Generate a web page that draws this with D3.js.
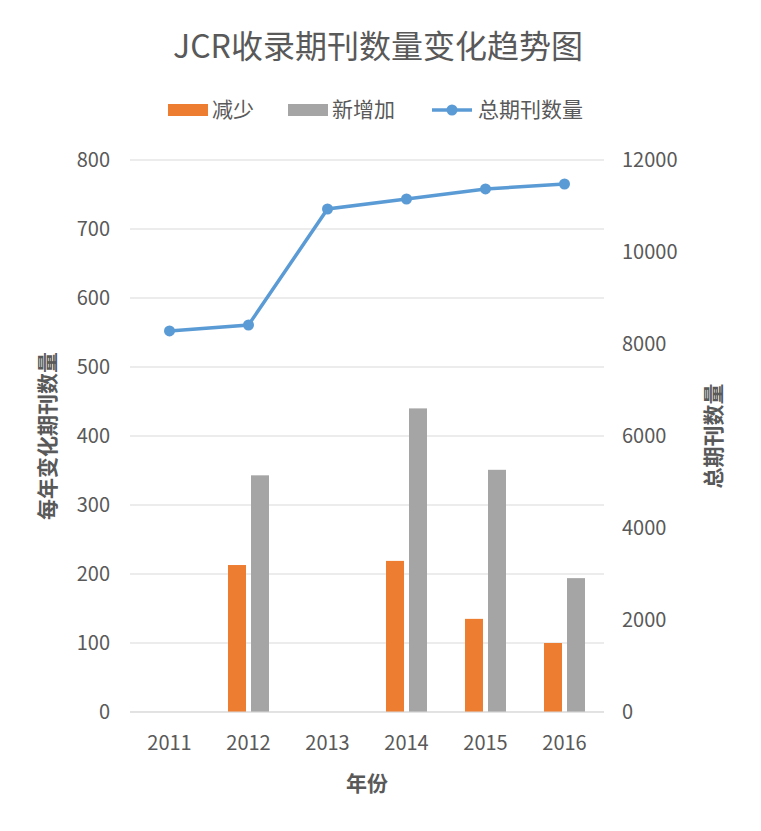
<!DOCTYPE html>
<html lang="zh">
<head>
<meta charset="UTF-8">
<title>JCR收录期刊数量变化趋势图</title>
<style>
  body { margin: 0; background: #fff; }
  text { font-family: "Noto Sans CJK SC", "Noto Sans", sans-serif; }
</style>
</head>
<body>
<svg id="chart" width="761" height="831"></svg>
<script src="https://d3js.org/d3.v7.min.js"></script>
<script>
  const years = ["2011", "2012", "2013", "2014", "2015", "2016"];
  const decreased = [0, 213, 0, 219, 135, 100];
  const added = [0, 343, 0, 440, 351, 194];
  const total = [8283, 8413, 10935, 11152, 11370, 11478];
  const leftTicks = [0, 100, 200, 300, 400, 500, 600, 700, 800];
  const rightTicks = [0, 2000, 4000, 6000, 8000, 10000, 12000];

  const svg = d3.select("#chart");
  const plotLeft = 130, plotRight = 604, plotTop = 160, plotBottom = 712;

  const x = d3.scaleBand().domain(years).range([plotLeft, plotRight]);
  const y = d3.scaleLinear().domain([0, 800]).range([plotBottom, plotTop]);
  const y2 = d3.scaleLinear().domain([0, 12000]).range([plotBottom, plotTop]);

  // gridlines
  svg.append("g").selectAll("line").data(leftTicks).join("line")
    .attr("x1", plotLeft).attr("x2", plotRight)
    .attr("y1", d => y(d)).attr("y2", d => y(d))
    .attr("stroke", "#d9d9d9").attr("stroke-width", 1);

  // left axis labels
  svg.append("g").selectAll("text").data(leftTicks).join("text")
    .attr("x", 110).attr("y", d => y(d)).attr("dy", "0.35em")
    .attr("text-anchor", "end").attr("font-size", 20).attr("fill", "#595959")
    .text(d => d);

  // right axis labels
  svg.append("g").selectAll("text").data(rightTicks).join("text")
    .attr("x", 622).attr("y", d => y2(d)).attr("dy", "0.35em")
    .attr("text-anchor", "start").attr("font-size", 20).attr("fill", "#595959")
    .text(d => d);

  // x labels
  svg.append("g").selectAll("text").data(years).join("text")
    .attr("x", d => x(d) + x.bandwidth() / 2).attr("y", 750)
    .attr("text-anchor", "middle").attr("font-size", 20).attr("fill", "#595959")
    .text(d => d);

  const bw = 18, gap = 5;
  svg.append("g").selectAll("rect").data(years).join("rect")
    .attr("x", d => x(d) + x.bandwidth() / 2 - gap / 2 - bw)
    .attr("width", bw)
    .attr("y", (d, i) => y(decreased[i]))
    .attr("height", (d, i) => plotBottom - y(decreased[i]))
    .attr("fill", "#ed7d31");
  svg.append("g").selectAll("rect").data(years).join("rect")
    .attr("x", d => x(d) + x.bandwidth() / 2 + gap / 2)
    .attr("width", bw)
    .attr("y", (d, i) => y(added[i]))
    .attr("height", (d, i) => plotBottom - y(added[i]))
    .attr("fill", "#a5a5a5");

  // total line
  const line = d3.line()
    .x((d, i) => x(years[i]) + x.bandwidth() / 2)
    .y(d => y2(d));
  svg.append("path").datum(total).attr("d", line)
    .attr("fill", "none").attr("stroke", "#5b9bd5").attr("stroke-width", 3.5);
  svg.append("g").selectAll("circle").data(total).join("circle")
    .attr("cx", (d, i) => x(years[i]) + x.bandwidth() / 2)
    .attr("cy", d => y2(d)).attr("r", 5.5).attr("fill", "#5b9bd5");

  // axis baseline
  svg.append("line").attr("x1", plotLeft).attr("x2", plotRight)
    .attr("y1", plotBottom).attr("y2", plotBottom).attr("stroke", "#d9d9d9");

  // title
  svg.append("text").attr("x", 378).attr("y", 58).attr("text-anchor", "middle")
    .attr("font-size", 32).attr("fill", "#595959").text("JCR收录期刊数量变化趋势图");

  // legend
  const lg = svg.append("g").attr("font-size", 21).attr("fill", "#595959");
  lg.append("rect").attr("x", 168).attr("y", 104).attr("width", 40).attr("height", 12).attr("fill", "#ed7d31");
  lg.append("text").attr("x", 212).attr("y", 110).attr("dy", "0.35em").text("减少");
  lg.append("rect").attr("x", 288).attr("y", 104).attr("width", 40).attr("height", 12).attr("fill", "#a5a5a5");
  lg.append("text").attr("x", 332).attr("y", 110).attr("dy", "0.35em").text("新增加");
  lg.append("line").attr("x1", 432).attr("x2", 472).attr("y1", 110).attr("y2", 110)
    .attr("stroke", "#5b9bd5").attr("stroke-width", 3.5);
  lg.append("circle").attr("cx", 452).attr("cy", 110).attr("r", 5.5).attr("fill", "#5b9bd5");
  lg.append("text").attr("x", 478).attr("y", 110).attr("dy", "0.35em").text("总期刊数量");

  // axis titles
  svg.append("text").attr("transform", "translate(48,436) rotate(-90)")
    .attr("text-anchor", "middle").attr("dy", "0.35em").attr("font-size", 21)
    .attr("font-weight", "bold").attr("fill", "#595959").text("每年变化期刊数量");
  svg.append("text").attr("transform", "translate(714,436) rotate(-90)")
    .attr("text-anchor", "middle").attr("dy", "0.35em").attr("font-size", 21)
    .attr("font-weight", "bold").attr("fill", "#595959").text("总期刊数量");
  svg.append("text").attr("x", 367).attr("y", 784).attr("dy", "0.35em")
    .attr("text-anchor", "middle").attr("font-size", 21)
    .attr("font-weight", "bold").attr("fill", "#595959").text("年份");
</script>
</body>
</html>
